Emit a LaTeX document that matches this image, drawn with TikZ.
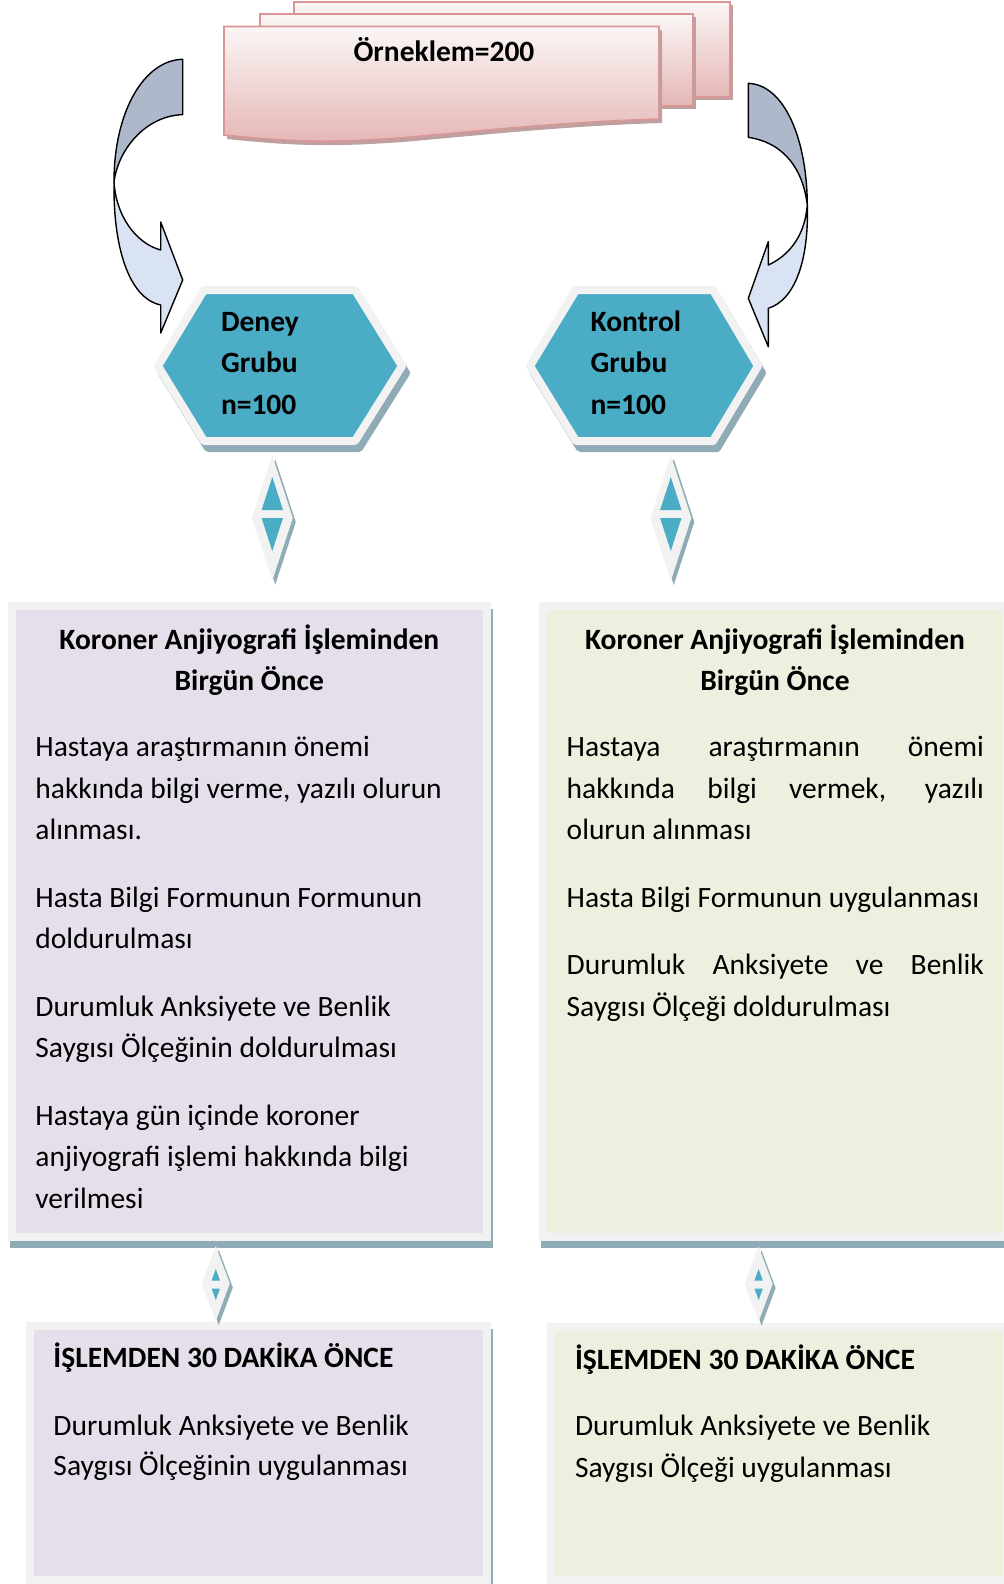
\documentclass[tikz,border=0pt]{standalone}
\usepackage{fontspec}
\setmainfont{Carlito}
\definecolor{lav}{HTML}{E5DFEC}
\definecolor{grn}{HTML}{EBF1DE}
\definecolor{bord}{HTML}{F2F2F2}
\definecolor{shad}{HTML}{8FABB5}
\definecolor{tealc}{HTML}{4BACC6}
\definecolor{docline}{HTML}{D99694}
\definecolor{doctop}{HTML}{FBF6F6}
\definecolor{docbot}{HTML}{E5B7B6}
\definecolor{docshad}{HTML}{BFA0A0}
\definecolor{arrgray}{HTML}{ADB9CA}
\definecolor{arrlight}{HTML}{DAE3F3}
\tikzset{
  txt/.style={font=\fontsize{14.75pt}{20.7pt}\selectfont, inner sep=0pt, outer sep=0pt},
  btxt/.style={font=\fontsize{14.75pt}{20.7pt}\selectfont\bfseries, inner sep=0pt, outer sep=0pt},
  docsheet/.style={draw=docline, line width=0.8pt, top color=doctop, bottom color=docbot},
  hexbody/.style={fill=tealc, draw=bord, line width=4pt, line join=round},
  hexshad/.style={fill=shad, draw=shad, line width=4pt, line join=round, shift={(4,7)}},
  boxshad/.style={fill=shad, draw=shad, line width=4pt, shift={(2,7)}},
  boxlav/.style={fill=lav, draw=bord, line width=4pt},
  boxgrn/.style={fill=grn, draw=bord, line width=4pt},
  curvearrow/.style={draw=black, line width=0.7pt, line join=round},
}
\newcommand{\tline}[4]{\node[txt, anchor=base west] (#1) at (#2,#3) {#4};}
\newcommand{\bline}[4]{\node[btxt, anchor=base west] (#1) at (#2,#3) {#4};}
\newcommand{\jline}[4]{\node[txt, anchor=base west] (#1) at (#2,#3) {\makebox[208.6pt][s]{#4}};}
% #1 name, #2 cx, #3 cy, #4 half width, #5 half height, #6 triangle centre y, #7 triangle half width, #8 triangle height
\newcommand{\dmd}[8]{%
  \coordinate (#1) at (#2,#3);
  \fill[shad] ({#2+3},{#3-#5+4}) -- ({#2+#4+3},{#3+4}) -- ({#2+3},{#3+#5+4}) -- ({#2-#4+3},{#3+4}) -- cycle;
  \fill[bord] (#2,{#3-#5}) -- ({#2+#4},#3) -- (#2,{#3+#5}) -- ({#2-#4},#3) -- cycle;
  \fill[tealc] (#2,{#6-4-#8}) -- ({#2+#7},{#6-4}) -- ({#2-#7},{#6-4}) -- cycle;
  \fill[tealc] (#2,{#6+4+#8}) -- ({#2+#7},{#6+4}) -- ({#2-#7},{#6+4}) -- cycle;
}
\begin{document}
\begin{tikzpicture}[x=0.5pt,y=-0.5pt]
\useasboundingbox (0,0) rectangle (1004,1584);
\clip (0,0) rectangle (1004,1584);
\fill[white] (0,0) rectangle (1004,1584);

% ---------- multi-document ----------
\fill[docshad] (297,5.5) rectangle (733,100.5);
\path[docsheet] (294,2) rectangle (730,97);
\fill[docshad] (263,17.5) rectangle (696,109.5);
\path[docsheet] (260,14) rectangle (693,106);
\fill[docshad, shift={(3,4)}] (224,26.5) -- (659,26.5) -- (659,119)
   .. controls (560,122) and (470,132) .. (400,138)
   .. controls (330,143) and (290,142) .. (224,135) -- cycle;
\path[docsheet] (224,26.5) -- (659,26.5) -- (659,119)
   .. controls (560,122) and (470,132) .. (400,138)
   .. controls (330,143) and (290,142) .. (224,135) -- cycle;
\node[btxt, anchor=base] (orn) at (444,61.7) {Örneklem=200};

% ---------- curved arrows ----------
\path[curvearrow, fill=arrgray] (182.7,59.3) .. controls (145,60) and (114,110) .. (114,182)
   .. controls (118,150) and (145,116) .. (182.7,114.6) -- cycle;
\path[curvearrow, fill=arrlight] (114,182) .. controls (113,245) and (128,298) .. (160.7,305)
   -- (160.7,333) -- (182.7,280) -- (160.7,222) -- (160.7,250)
   .. controls (135,243) and (116,215) .. (114,182) -- cycle;
\path[curvearrow, fill=arrgray] (748.3,83.3) .. controls (785,85) and (807,140) .. (807.3,205)
   .. controls (803,170) and (785,143) .. (748.3,137.3) -- cycle;
\path[curvearrow, fill=arrlight] (807.3,205) .. controls (809,260) and (795,300) .. (768.3,308.3)
   -- (768.3,346.7) -- (748.3,298.3) -- (768.3,241.7) -- (768.3,265)
   .. controls (790,255) and (805,235) .. (807.3,205) -- cycle;

% ---------- hexagons ----------
\path[hexshad] (158,366) -- (204,290) -- (355,290) -- (402,366) -- (355,441) -- (204,441) -- cycle;
\path[hexbody] (158,366) -- (204,290) -- (355,290) -- (402,366) -- (355,441) -- (204,441) -- cycle;
\path[hexshad] (530,366) -- (576,290) -- (713,290) -- (758,366) -- (713,441) -- (576,441) -- cycle;
\path[hexbody] (530,366) -- (576,290) -- (713,290) -- (758,366) -- (713,441) -- (576,441) -- cycle;
\bline{d1}{221}{331}{Deney}
\bline{d2}{221}{372}{Grubu}
\bline{d3}{221}{414}{n=100}
\bline{k1}{590.6}{331}{Kontrol}
\bline{k2}{590.6}{372}{Grubu}
\bline{k3}{590.6}{414}{n=100}

% ---------- big boxes ----------
\path[boxshad] (12.3,606) rectangle (486.7,1237);
\path[boxlav] (12.3,606) rectangle (486.7,1237);
\path[boxshad] (543.3,606) rectangle (1008,1237);
\path[boxgrn] (543.3,606) rectangle (1007,1237);

\node[btxt, anchor=base] (lh1) at (249.3,649.3) {Koroner Anjiyografi İşleminden};
\node[btxt, anchor=base] (lh2) at (249.3,690) {Birgün Önce};
\tline{l1}{35.4}{756.5}{Hastaya araştırmanın önemi}
\tline{l2}{35.4}{798}{hakkında bilgi verme, yazılı olurun}
\tline{l3}{35.4}{839.3}{alınması.}
\tline{l4}{35.4}{907}{Hasta Bilgi Formunun Formunun}
\tline{l5}{35.4}{948.4}{doldurulması}
\tline{l6}{35.4}{1016}{Durumluk Anksiyete ve Benlik}
\tline{l7}{35.4}{1057.5}{Saygısı Ölçeğinin doldurulması}
\tline{l8}{35.4}{1125}{Hastaya gün içinde koroner}
\tline{l9}{35.4}{1166.6}{anjiyografi işlemi hakkında bilgi}
\tline{l10}{35.4}{1208.2}{verilmesi}

\node[btxt, anchor=base] (rh1) at (775,649.3) {Koroner Anjiyografi İşleminden};
\node[btxt, anchor=base] (rh2) at (775,690) {Birgün Önce};
\jline{r1}{566.7}{756.5}{Hastaya araştırmanın önemi}
\jline{r2}{566.7}{798}{hakkında bilgi vermek, yazılı}
\tline{r3}{566.7}{839.3}{olurun alınması}
\tline{r4}{566.7}{907}{Hasta Bilgi Formunun uygulanması}
\jline{r5}{566.7}{974.6}{Durumluk Anksiyete ve Benlik}
\tline{r6}{566.7}{1016}{Saygısı Ölçeği doldurulması}

% ---------- bottom boxes ----------
\path[boxshad] (30,1325.5) rectangle (486.7,1580);
\path[boxlav] (30,1325.5) rectangle (486.7,1580);
\path[boxshad] (551,1327) rectangle (1008,1580);
\path[boxgrn] (551,1327) rectangle (1007,1580);

\bline{bl1}{53.5}{1367.3}{İŞLEMDEN 30 DAKİKA ÖNCE}
\tline{bl2}{53.5}{1435}{Durumluk Anksiyete ve Benlik}
\tline{bl3}{53.5}{1475.5}{Saygısı Ölçeğinin uygulanması}
\bline{br1}{575}{1369.3}{İŞLEMDEN 30 DAKİKA ÖNCE}
\tline{br2}{575}{1435.7}{Durumluk Anksiyete ve Benlik}
\tline{br3}{575}{1477.3}{Saygısı Ölçeği uygulanması}

% ---------- up/down connectors ----------
\dmd{dA}{272.3}{518}{20.5}{62.5}{514}{10.7}{33}
\dmd{dB}{670.8}{518}{20.5}{63}{514}{10.7}{33}
\dmd{dC}{215.8}{1283.5}{14}{37.5}{1284.5}{4.2}{11.5}
\dmd{dD}{758.6}{1284}{14}{37.5}{1284.5}{4.2}{11.5}
\end{tikzpicture}
\end{document}
